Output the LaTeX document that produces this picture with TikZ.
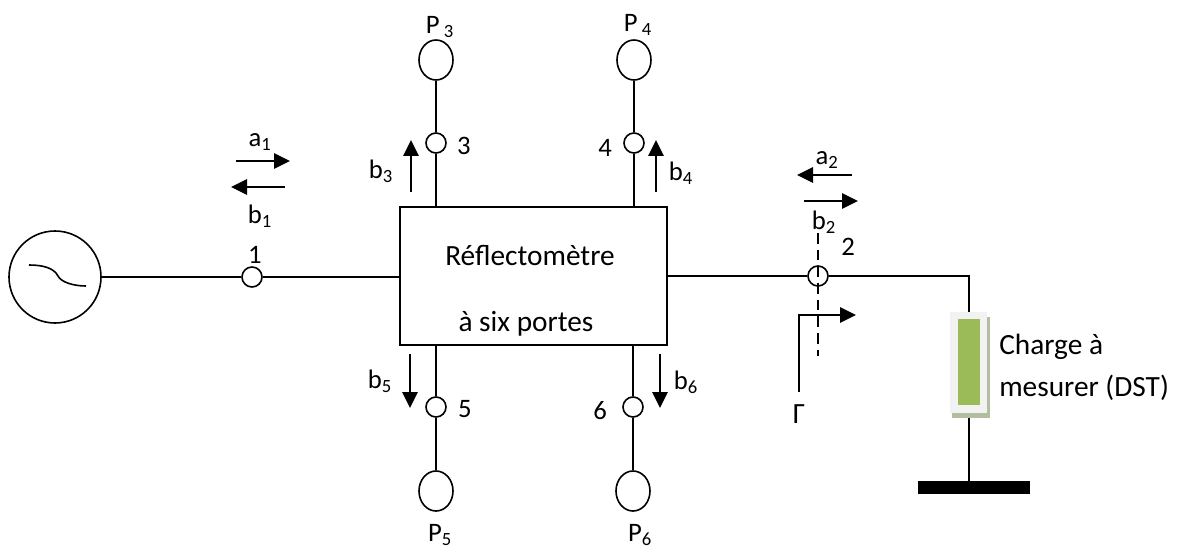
\documentclass[tikz,border=0pt]{standalone}
\usepackage{fontspec}
\setmainfont{Carlito}
\usepackage{tikz}
\usetikzlibrary{arrows.meta,shapes.geometric}
\definecolor{loadgreen}{HTML}{9BBB59}
\definecolor{loadshadow}{HTML}{B3BD9F}
\definecolor{loadpale}{HTML}{F2F2F2}
\tikzstyle{port}=[circle,draw,line width=1.2pt,minimum size=15pt,inner sep=0pt]
\tikzstyle{sensor}=[ellipse,draw,line width=1.2pt,minimum width=25.5pt,minimum height=30pt,inner sep=0pt]
\tikzstyle{lbl}=[inner sep=0pt,font=\fontsize{20}{24}\selectfont]
\tikzstyle{wide}=[inner sep=0pt,font=\fontsize{22}{26}\selectfont]
\tikzstyle{wire}=[line width=1.2pt]
\tikzstyle{wave}=[line width=1.5pt,-{Triangle[length=12pt,width=11.5pt]}]
\tikzstyle{block}=[rectangle,inner sep=0pt,outer sep=0pt]

\begin{document}
\begin{tikzpicture}[x=0.75pt,y=-0.75pt]
          \useasboundingbox (0,0) rectangle (1177,549);

          \node[circle,draw,line width=1.2pt,minimum size=69pt,inner sep=0pt] at (55, 277) (gen) {};
          \node[block,draw,line width=1.2pt,minimum width=200.25pt,minimum height=103.5pt] at (533.5, 276) (box) {};

          \node[port] at (252, 277) (p1) {};
          \node[port] at (818, 276) (p2) {};
          \node[port] at (436, 143) (p3) {};
          \node[port] at (634, 143) (p4) {};
          \node[port] at (436, 407) (p5) {};
          \node[port] at (633, 407) (p6) {};

          \node[sensor] at (436, 60) (S3) {};
          \node[sensor] at (634, 60) (S4) {};
          \node[sensor] at (436, 491) (S5) {};
          \node[sensor] at (633, 491) (S6) {};

          % load
          \node[block,fill=loadshadow,minimum width=28.5pt,minimum height=75.75pt] at (971, 367.5) (shadow) {};
          \node[block,fill=white,minimum width=27pt,minimum height=74pt] at (969, 364) (paper) {};
          \node[block,fill=loadpale,minimum width=27.75pt,minimum height=75.75pt] at (968.5, 362.5) (load) {};
          \node[block,fill=loadgreen,minimum width=16.5pt,minimum height=65pt] at (968.5, 362) (bar) {};
          \node[block,fill=black,minimum width=84pt,minimum height=10pt] at (974, 487.5) (ground) {};

          \coordinate (corner) at (969, 276);
          \coordinate (loadtop) at (969, 312);
          \coordinate (loadbot) at (969, 418);
          \coordinate (groundtop) at (969, 481);

          \draw[wire] (gen) -- (p1);
          \draw[wire] (p1) -- (box.west |- p1);
          \draw[wire] (box.east |- p2) -- (p2);
          \draw[wire] (p2) -- (corner) -- (loadtop);
          \draw[wire] (loadbot) -- (groundtop);

          \draw[wire] (S3) -- (p3);
          \draw[wire] (S4) -- (p4);
          \draw[wire] (p3) -- (p3 |- box.north);
          \draw[wire] (p4) -- (p4 |- box.north);
          \draw[wire] (p5 |- box.south) -- (p5);
          \draw[wire] (p6 |- box.south) -- (p6);
          \draw[wire] (p5) -- (S5);
          \draw[wire] (p6) -- (S6);

          % squiggle in the generator
          \coordinate (sqA) at (29, 265);
          \coordinate (sqB) at (58, 276);
          \coordinate (sqC) at (86, 286);
          \draw[wire] (sqA) .. controls (43, 265) and (54, 268) .. (sqB) .. controls (61, 282) and (73, 286) .. (sqC);

          % waves
          \coordinate (a1s) at (236, 161);
          \coordinate (a1e) at (290, 161);
          \coordinate (b1s) at (285, 187);
          \coordinate (b1e) at (231, 187);
          \coordinate (a2s) at (852, 175);
          \coordinate (a2e) at (797, 175);
          \coordinate (b2s) at (804, 201);
          \coordinate (b2e) at (858, 201);
          \coordinate (b3s) at (411, 192);
          \coordinate (b3e) at (411, 140);
          \coordinate (b4s) at (656, 192);
          \coordinate (b4e) at (656, 140);
          \coordinate (b5s) at (410, 354);
          \coordinate (b5e) at (410, 408);
          \coordinate (b6s) at (660, 354);
          \coordinate (b6e) at (660, 408);
          \draw[wave] (a1s) -- (a1e);
          \draw[wave] (b1s) -- (b1e);
          \draw[wave] (a2s) -- (a2e);
          \draw[wave] (b2s) -- (b2e);
          \draw[wave] (b3s) -- (b3e);
          \draw[wave] (b4s) -- (b4e);
          \draw[wave] (b5s) -- (b5e);
          \draw[wave] (b6s) -- (b6e);

          % reference plane
          \coordinate (planeT) at (818, 233);
          \coordinate (planeB) at (818, 356);
          \coordinate (gamS) at (799, 392);
          \coordinate (gamC) at (799, 315);
          \coordinate (gamE) at (856, 315);
          \draw[line width=1.5pt,dash pattern=on 8pt off 4.5pt] (planeT) -- (planeB);
          \draw[wave] (gamS) -- (gamC) -- (gamE);

          % labels
          \node[wide] at (530, 256) (title1) {Réflectomètre};
          \node[wide] at (526, 324) (title2) {à six portes};
          \node[lbl] at (260, 142) (la1) {a\textsubscript{1}};
          \node[lbl] at (260, 216) (lb1) {b\textsubscript{1}};
          \node[lbl] at (827, 160) (la2) {a\textsubscript{2}};
          \node[lbl] at (824, 222) (lb2) {b\textsubscript{2}};
          \node[lbl] at (381, 171) (lb3) {b\textsubscript{3}};
          \node[lbl] at (681, 173) (lb4) {b\textsubscript{4}};
          \node[lbl] at (380, 381) (lb5) {b\textsubscript{5}};
          \node[lbl] at (686, 382) (lb6) {b\textsubscript{6}};
          \node[lbl] at (255, 255) (n1) {1};
          \node[lbl] at (848, 247) (n2) {2};
          \node[lbl] at (464, 146) (n3) {3};
          \node[lbl] at (605, 148) (n4) {4};
          \node[lbl] at (465, 409) (n5) {5};
          \node[lbl] at (600, 411) (n6) {6};
          \node[lbl] at (440, 27) (P3) {P\textsubscript{ 3}};
          \node[lbl] at (638, 25) (P4) {P\textsubscript{ 4}};
          \node[lbl] at (440, 535) (P5) {P\textsubscript{5}};
          \node[lbl] at (640, 535) (P6) {P\textsubscript{6}};
          \node[wide] at (799, 414) (Gam) {Γ};
          \node[wide,anchor=west] at (999, 347) (charge1) {Charge à};
          \node[wide,anchor=west] at (999, 388) (charge2) {mesurer (DST)};
        \end{tikzpicture}
\end{document}
